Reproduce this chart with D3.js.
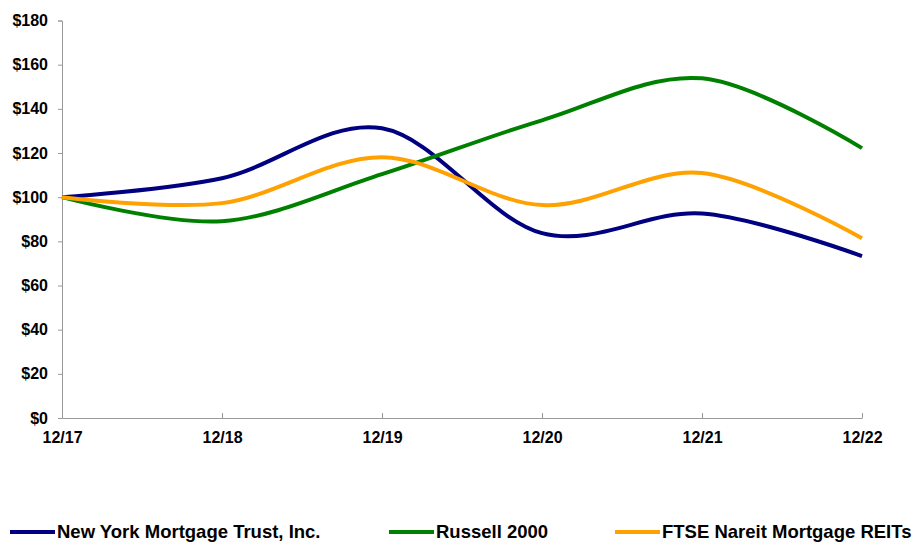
<!DOCTYPE html>
<html>
<head>
<meta charset="utf-8">
<script src="https://cdn.jsdelivr.net/npm/d3@7"></script>
<style>
  body { margin: 0; background: #fff; }
  text { font-family: "Liberation Sans", Arial, sans-serif; font-weight: bold; fill: #000; }
</style>
</head>
<body>
<div id="chart"></div>
<script>
const WIDTH = 914;
const HEIGHT = 542;

// data
const periods = ["12/17", "12/18", "12/19", "12/20", "12/21", "12/22"];
const nymt = [100, 108.6, 131.2, 83.7, 92.6, 73.3];
const russell = [100, 89.1, 110.4, 134.8, 153.8, 122.2];
const ftse = [100, 97.3, 118.1, 96.4, 110.9, 81.4];
const yTicks = [0, 20, 40, 60, 80, 100, 120, 140, 160, 180];

const seriesNames = ["New York Mortgage Trust, Inc.", "Russell 2000", "FTSE Nareit Mortgage REITs"];
const seriesColors = ["#000080", "#008000", "#FFA100"];
const seriesValues = [nymt, russell, ftse];

let svg = d3
  .select("#chart")
  .append("svg")
  .attr("width", WIDTH)
  .attr("height", HEIGHT);

const plotLeft = 62, plotRight = 862, plotTop = 20.5, plotBottom = 418;

const x = d3.scalePoint().domain(periods).range([plotLeft, plotRight]);
const y = d3.scaleLinear().domain([0, 180]).range([plotBottom, plotTop]);

// y axis
const yAxis = svg.append("g").attr("transform", `translate(${plotLeft},0)`)
  .call(d3.axisLeft(y).tickValues(yTicks).tickSize(4).tickPadding(10).tickFormat(d => "$" + d));
yAxis.select(".domain").attr("stroke", "#999").attr("stroke-width", 1);
yAxis.selectAll(".tick line").attr("stroke", "#999");
yAxis.selectAll("text").style("font-size", "16px").attr("fill", "#000");

// x axis, ticks pointing up
const xAxis = svg.append("g").attr("transform", `translate(0,${plotBottom})`)
  .call(d3.axisBottom(x).tickSize(-5).tickPadding(14).tickSizeOuter(0));
xAxis.select(".domain").attr("stroke", "#999").attr("stroke-width", 1);
xAxis.selectAll(".tick line").attr("stroke", "#999");
xAxis.selectAll("text").style("font-size", "16px").attr("fill", "#000");

//smooth lines like the spreadsheet ones
const line = d3.line()
  .x((d, i) => x(periods[i]))
  .y(d => y(d))
  .curve(d3.curveCardinal.tension(0));

seriesValues.forEach((vals, k) => {
  svg.append("path")
    .datum(vals)
    .attr("fill", "none")
    .attr("stroke", seriesColors[k])
    .attr("stroke-width", 4)
    .attr("d", line);
});

// legend
const legendX = [10, 389, 615];
const legend = svg.append("g").attr("class", "legend");
seriesNames.forEach((name, k) => {
  const g = legend.append("g").attr("transform", `translate(${legendX[k]},532)`);
  g.append("line").attr("x1", 0).attr("x2", 45).attr("y1", 0).attr("y2", 0)
    .attr("stroke", seriesColors[k]).attr("stroke-width", 4);
  g.append("text").attr("x", 47).attr("y", 5.5).style("font-size", "18.5px").text(name);
});
</script>
</body>
</html>
